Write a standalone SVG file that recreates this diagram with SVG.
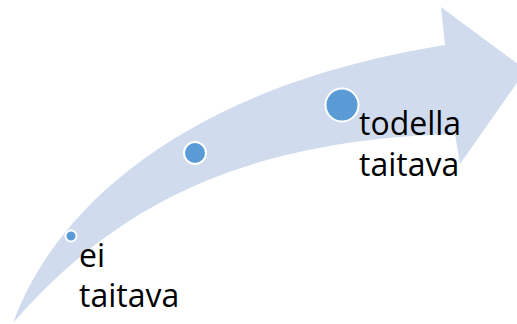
<svg xmlns="http://www.w3.org/2000/svg" width="517" height="324" viewBox="0 0 517 324">
<style>
.arrow{fill:#D0DCEE;stroke:none}
.dot{fill:#5B9BD5;stroke:#FFFFFF;stroke-width:2}
.lbl{font-family:"Open Sans","Liberation Sans",sans-serif;font-size:32px;fill:#000000}
</style>
<rect width="517" height="324" fill="#FFFFFF"/>
<g id="connectors">
<path id="arrow" class="arrow" d="M13,323 C58,200 195,85 445,45 L441,7 L526,70 L460,164 L455,134 C250,140 120,200 13,323 Z"/>
</g>
<g id="node-low">
<circle class="dot" cx="71" cy="236" r="5.5"/>
<text class="lbl" x="79" y="266.5">ei</text>
<text class="lbl" x="79" y="306.5">taitava</text>
</g>
<g id="node-mid">
<circle class="dot" cx="195" cy="153" r="11"/>
</g>
<g id="node-high">
<circle class="dot" cx="342" cy="105" r="16.5"/>
<text class="lbl" x="359" y="135">todella</text>
<text class="lbl" x="359" y="176">taitava</text>
</g>
</svg>
